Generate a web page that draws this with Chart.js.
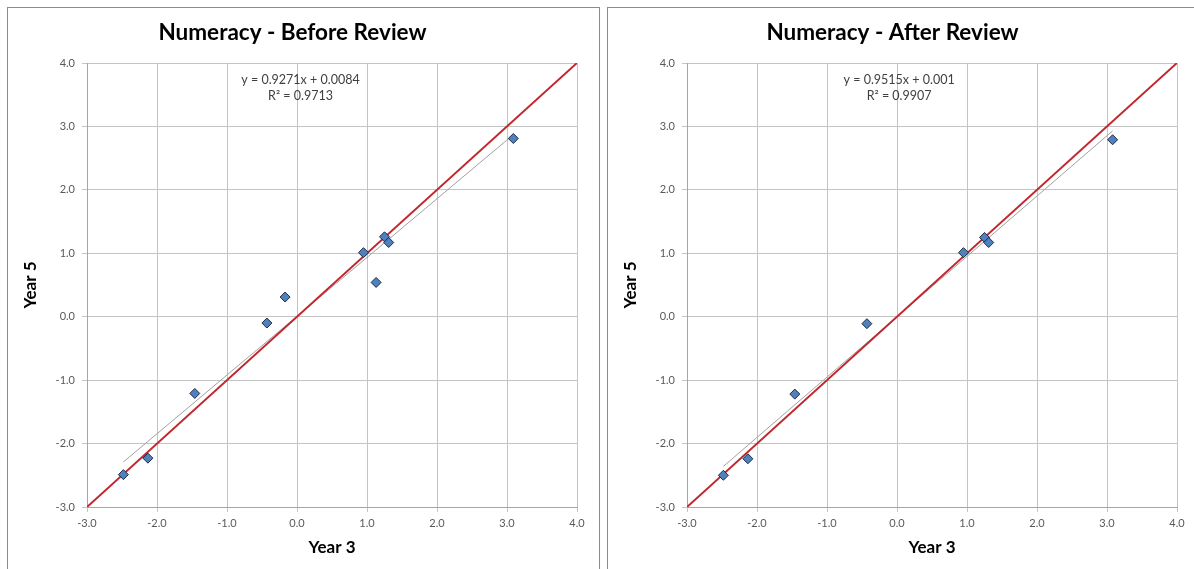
<!DOCTYPE html>
<html>
<head>
<meta charset="utf-8">
<script src="https://cdn.jsdelivr.net/npm/chart.js@4/dist/chart.umd.min.js"></script>
<style>
  html, body { margin: 0; padding: 0; background: #fff; overflow: hidden; width: 1194px; height: 569px; }
  .panel { position: absolute; top: 7px; width: 591px; height: 570px; border: 1px solid #8c8c8c; background: #fff; }
  #p1 { left: 7px; }
  #p2 { left: 607px; }
  canvas { display: block; }
</style>
</head>
<body>
<div class="panel" id="p1"><canvas id="c1" width="591" height="561"></canvas></div>
<div class="panel" id="p2"><canvas id="c2" width="591" height="561"></canvas></div>
<script>
// ---- data ----
const axisTicks = [-3, -2, -1, 0, 1, 2, 3, 4];
const titles = ["Numeracy - Before Review", "Numeracy - After Review"];
const xAxisTitle = "Year 3";
const yAxisTitle = "Year 5";

const beforeYear3 = [-2.48, -2.13, -1.46, -0.43, -0.17, 0.95, 1.13, 1.25, 1.31, 3.09];
const beforeYear5 = [-2.49, -2.23, -1.21, -0.10, 0.31, 1.01, 0.54, 1.26, 1.17, 2.81];
const afterYear3  = [-2.48, -2.13, -1.46, -0.43, 0.95, 1.25, 1.31, 3.08];
const afterYear5  = [-2.50, -2.24, -1.22, -0.11, 1.01, 1.25, 1.17, 2.79];

// trend line end points (as drawn)
const beforeTrendX = [-2.48, 3.09];
const beforeTrendY = [-2.29, 2.87];
const afterTrendX  = [-2.48, 3.08];
const afterTrendY  = [-2.36, 2.93];

// identity (y = x) reference line end points
const identityX = [-3, 4];
const identityY = [-3, 4];

const beforeEquation = ["y = 0.9271x + 0.0084", "R\u00B2 = 0.9713"];
const afterEquation  = ["y = 0.9515x + 0.001", "R\u00B2 = 0.9907"];
// anchor of equation label in data units (centre x, line y values)
const equationAnchorX = [0.05, 0.03];
const equationAnchorY = [3.73, 3.48];

const FONT = "Lato, 'Open Sans', 'Liberation Sans', sans-serif";

function pts(xs, ys) { return xs.map((x, i) => ({ x: x, y: ys[i] })); }

function makeChart(id, title, xs, ys, tx, ty, eq, anchorX) {
  const eqPlugin = {
    id: 'eqLabel',
    afterDatasetsDraw(chart) {
      const ctx = chart.ctx;
      const sx = chart.scales.x, sy = chart.scales.y;
      ctx.save();
      ctx.font = "12.5px " + FONT;
      ctx.fillStyle = "#404040";
      ctx.textAlign = "center";
      ctx.textBaseline = "middle";
      eq.forEach((line, i) => {
        ctx.fillText(line, sx.getPixelForValue(anchorX), sy.getPixelForValue(equationAnchorY[i]));
      });
      ctx.restore();
    }
  };
  return new Chart(document.getElementById(id), {
    type: 'scatter',
    data: {
      datasets: [
        {
          data: pts(xs, ys),
          pointStyle: 'rectRot',
          pointRadius: 5,
          pointHoverRadius: 5,
          backgroundColor: '#4f81bd',
          borderColor: '#1c2a48',
          borderWidth: 1
        },
        {
          data: pts(identityX, identityY),
          showLine: true,
          pointRadius: 0,
          borderColor: '#c0262c',
          borderWidth: 2
        },
        {
          data: pts(tx, ty),
          showLine: true,
          pointRadius: 0,
          borderColor: '#a0a0a0',
          borderWidth: 1
        }
      ]
    },
    options: {
      responsive: false,
      animation: false,
      devicePixelRatio: 1,
      layout: { padding: { left: 0, right: 22, top: 0, bottom: 0 } },
      plugins: {
        legend: { display: false },
        tooltip: { enabled: false },
        title: {
          display: true,
          text: title,
          color: '#000',
          font: { family: FONT, size: 22.5, weight: 'bold', lineHeight: 1.2 },
          padding: { top: 11.5, bottom: 16.5 }
        }
      },
      scales: {
        x: {
          type: 'linear',
          min: -3, max: 4,
          afterBuildTicks(s) { s.ticks = axisTicks.map(v => ({ value: v })); },
          afterFit(s) { s.height = 62; },
          ticks: {
            color: '#595959',
            font: { family: FONT, size: 11 },
            padding: 5,
            maxRotation: 0,
            callback: v => Number(v).toFixed(1)
          },
          grid: { color: '#c4c4c4', tickColor: '#c4c4c4', tickLength: 5, lineWidth: 1 },
          border: { display: true, color: '#a6a6a6' },
          title: {
            display: true,
            text: xAxisTitle,
            color: '#000',
            font: { family: FONT, size: 17, weight: 'bold', lineHeight: 1.2 },
            padding: { top: 0, bottom: 11 }
          }
        },
        y: {
          type: 'linear',
          min: -3, max: 4,
          afterBuildTicks(s) { s.ticks = axisTicks.map(v => ({ value: v })); },
          afterFit(s) { s.width = 79; },
          ticks: {
            color: '#595959',
            font: { family: FONT, size: 11 },
            padding: 7,
            callback: v => Number(v).toFixed(1)
          },
          grid: { color: '#c4c4c4', tickColor: '#c4c4c4', tickLength: 5, lineWidth: 1 },
          border: { display: true, color: '#a6a6a6' },
          title: {
            display: true,
            text: yAxisTitle,
            color: '#000',
            font: { family: FONT, size: 17, weight: 'bold', lineHeight: 1.2 },
            padding: { top: 12, bottom: 0 }
          }
        }
      }
    },
    plugins: [eqPlugin]
  });
}

makeChart('c1', titles[0], beforeYear3, beforeYear5, beforeTrendX, beforeTrendY, beforeEquation, equationAnchorX[0]);
makeChart('c2', titles[1], afterYear3, afterYear5, afterTrendX, afterTrendY, afterEquation, equationAnchorX[1]);
</script>
</body>
</html>
